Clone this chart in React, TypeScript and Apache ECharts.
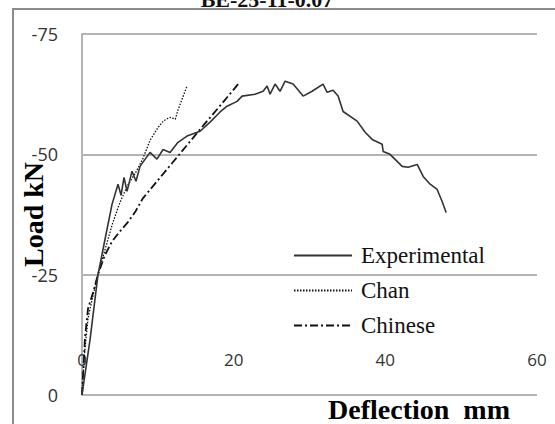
import React, { useEffect, useRef } from "react";
import * as echarts from "echarts";

const titleText = "BE-25-11-0.07";
const seriesNames = ["Experimental", "Chan", "Chinese"];
const xTicks = [0, 20, 40, 60];
const yTicks = [-75, -50, -25, 0];

// [deflection mm, load kN]
const experimental: [number, number][] = [
  [0, 0], [1.06, -11.5], [2.11, -25.0], [3.03, -32.3], [3.96, -39.6], [4.75, -43.8],
  [5.15, -41.5], [5.54, -45.2], [5.94, -42.3], [6.6, -46.5], [7.12, -44.4], [7.65, -47.5],
  [8.97, -50.4], [9.89, -49.0], [10.69, -51.0], [11.61, -50.4], [12.66, -52.5], [13.85, -53.8],
  [15.57, -54.8], [16.89, -56.7], [18.21, -58.8], [19.13, -60.0], [20.45, -61.0], [21.11, -62.1],
  [22.82, -62.5], [23.88, -63.1], [24.41, -64.2], [24.8, -62.5], [25.46, -64.6], [26.12, -63.1],
  [26.78, -65.2], [27.84, -64.6], [29.16, -62.1], [30.34, -63.1], [31.79, -64.6], [32.32, -62.9],
  [33.11, -63.3], [33.77, -62.1], [34.43, -58.9], [36.28, -56.9], [37.34, -54.6], [38.26, -53.1],
  [39.58, -52.1], [39.71, -50.6], [40.63, -50.0], [42.22, -47.5], [43.01, -47.3], [44.2, -47.9],
  [44.99, -45.4], [45.91, -43.8], [46.83, -42.7], [47.49, -40.2], [48.02, -37.9],
];

const chan: [number, number][] = [
  [0, 0], [0.3, -8], [0.8, -16], [1.5, -21], [2.1, -25], [3, -30], [4, -35.5], [5, -40],
  [6, -43.5], [7, -46], [8, -49], [9, -53], [10, -55.5], [10.7, -56.9], [11.6, -57.7],
  [12.3, -57.3], [12.7, -59.4], [13.85, -64.2],
];

const chinese: [number, number][] = [
  [0, 0], [0.4, -12], [0.8, -18], [1.5, -21.5], [2.1, -25], [3, -29], [4, -32], [5, -34],
  [6, -35.8], [7, -38], [8, -40.8], [10, -44.6], [12, -48.4], [14, -52.2], [16, -56],
  [18, -59.7], [20.6, -64.6],
];

export default function App() {
  const ref = useRef<HTMLDivElement>(null);
  useEffect(() => {
    if (!ref.current) return;
    const chart = echarts.init(ref.current, undefined, { renderer: "svg" });
    const serif = "'Liberation Serif', 'DejaVu Serif', serif";
    chart.setOption({
      animation: false,
      backgroundColor: "#ffffff",
      grid: { left: 82, right: 18, top: 34, bottom: 29, containLabel: false, outerBoundsMode: "none" },
      title: {
        text: titleText,
        left: 262,
        textAlign: "center",
        top: -17,
        textStyle: { fontFamily: serif, fontWeight: "bold", fontSize: 22, color: "#111" },
      },
      legend: {
        data: seriesNames,
        orient: "vertical",
        left: 288,
        top: 239,
        itemWidth: 58,
        itemHeight: 14,
        itemGap: 12,
        itemStyle: { opacity: 0 },
        textStyle: { fontFamily: serif, fontSize: 23, color: "#111", padding: [0, 0, 0, 4] },
      },
      xAxis: {
        type: "value",
        min: 0,
        max: 60,
        interval: 20,
        axisLine: { show: false },
        axisTick: { show: false },
        splitLine: { show: false },
        axisLabel: {
          margin: -36,
          verticalAlign: "middle",
          fontFamily: "'Open Sans', sans-serif",
          fontSize: 17,
          color: "#333",
          formatter: (v: number) => (xTicks.includes(v) ? String(v) : ""),
        },
        name: "Deflection  mm",
        nameLocation: "end",
        nameGap: -27,
        nameMoveOverlap: false,
        nameTextStyle: {
          fontFamily: serif,
          fontWeight: "bold",
          fontSize: 28,
          color: "#000",
          align: "right",
          verticalAlign: "top",
          padding: [0, 0, 0, 0],
        },
      },
      yAxis: {
        type: "value",
        min: -75,
        max: 0,
        interval: 25,
        inverse: true,
        axisLine: { show: true, lineStyle: { color: "#b4b4b4", width: 2 } },
        axisTick: { show: false },
        splitLine: { show: true, lineStyle: { color: "#b4b4b4", width: 2 } },
        axisLabel: {
          margin: 24,
          fontFamily: "'Open Sans', sans-serif",
          fontSize: 18,
          color: "#333",
          formatter: (v: number) => (yTicks.includes(v) ? String(v) : ""),
        },
        name: "Load kN",
        nameLocation: "middle",
        nameGap: 35,
        nameMoveOverlap: false,
        nameRotate: 90,
        nameTextStyle: { fontFamily: serif, fontWeight: "bold", fontSize: 28, color: "#000" },
      },
      graphic: [
        {
          type: "rect",
          shape: { x: 13, y: 9, width: 700, height: 600 },
          style: { fill: "none", stroke: "#8c8c8c", lineWidth: 2 },
          silent: true,
        },
      ],
      series: [
        {
          name: seriesNames[0],
          type: "line",
          data: experimental,
          symbol: "none",
          lineStyle: { color: "#333333", width: 1.6, type: "solid" },
          itemStyle: { color: "#333333" },
          z: 3,
        },
        {
          name: seriesNames[1],
          type: "line",
          data: chan,
          symbol: "none",
          lineStyle: { color: "#111111", width: 1.3, type: [1.5, 1.5] },
          itemStyle: { color: "#111111" },
          z: 2,
        },
        {
          name: seriesNames[2],
          type: "line",
          data: chinese,
          symbol: "none",
          lineStyle: { color: "#111111", width: 1.8, type: [8, 3, 2, 3] },
          itemStyle: { color: "#111111" },
          z: 2,
        },
      ],
    });
    return () => chart.dispose();
  }, []);
  return (
    <div
      ref={ref}
      style={{ position: "fixed", left: 0, top: 0, width: 555, height: 424, background: "#fff" }}
    />
  );
}
